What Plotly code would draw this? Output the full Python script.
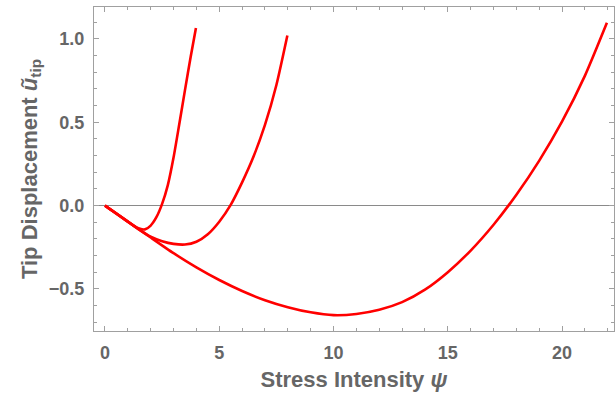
import plotly.graph_objects as go

# Curve 1 (ends at psi = 4)
psi1 = [0, 0.25, 0.5, 0.75, 1.0, 1.25, 1.5, 1.75, 2.0, 2.25, 2.5, 2.75, 3.0, 3.25, 3.5, 3.75, 3.98]
u1 = [0, -0.024, -0.048, -0.072, -0.096, -0.120, -0.138, -0.143, -0.120, -0.070, 0.010, 0.123,
      0.288, 0.488, 0.693, 0.893, 1.066]

# Curve 2 (ends at psi = 8)
psi2 = [0, 0.5, 1.0, 1.5, 2.0, 2.5, 3.0, 3.5, 4.0, 4.5, 5.0, 5.5, 6.0, 6.5, 7.0, 7.5, 7.98]
u2 = [0, -0.048, -0.096, -0.144, -0.187, -0.214, -0.230, -0.234, -0.217, -0.172, -0.097, 0.004,
      0.139, 0.294, 0.484, 0.724, 1.021]

# Curve 3 (ends at psi = 22)
psi3 = [0, 1, 2, 3, 4, 5, 6, 7, 8, 9, 10, 11, 12, 13, 14, 15, 16, 17, 18, 19, 20, 21, 21.96]
u3 = [0, -0.096, -0.192, -0.286, -0.371, -0.447, -0.513, -0.568, -0.610, -0.641, -0.658, -0.651,
      -0.626, -0.580, -0.505, -0.400, -0.270, -0.115, 0.065, 0.270, 0.505, 0.780, 1.097]

x_ticks = [0, 5, 10, 15, 20]
y_ticks = [-0.5, 0.0, 0.5, 1.0]
y_tick_labels = ["−0.5", "0.0", "0.5", "1.0"]

fig = go.Figure()
for px_, py_ in [(psi1, u1), (psi2, u2), (psi3, u3)]:
    fig.add_trace(go.Scatter(x=px_, y=py_, mode="lines",
                             line=dict(color="#ff0000", width=2.6, shape="spline", smoothing=0.6),
                             showlegend=False, hoverinfo="skip"))

axis_common = dict(
    showline=True, linecolor="#a0a0a0", linewidth=1, mirror="allticks",
    ticks="inside", ticklen=5, tickcolor="#a0a0a0", tickwidth=1,
    showgrid=False,
    tickfont=dict(family="Liberation Sans, Arial", size=18, color="#666666", weight="bold"),
)

fig.update_xaxes(
    range=[-0.48, 22.27], tickvals=x_ticks, zeroline=False,
    minor=dict(ticks="inside", ticklen=3, dtick=1, tickcolor="#a0a0a0", showgrid=False),
    title=dict(text="<b>Stress Intensity <i>ψ</i></b>", standoff=10,
               font=dict(family="Liberation Sans, Arial", size=22, color="#666666")),
    ticklabelstandoff=5,
    **axis_common)
fig.update_yaxes(
    range=[-0.753, 1.192], tickvals=y_ticks, ticktext=y_tick_labels,
    zeroline=True, zerolinecolor="#8a8a8a", zerolinewidth=1,
    minor=dict(ticks="inside", ticklen=3, dtick=0.1, tick0=0, tickcolor="#a0a0a0", showgrid=False),
    title=dict(text="<b>Tip Displacement <i>ũ</i><sub>tip</sub></b>", standoff=5,
               font=dict(family="Liberation Sans, Arial", size=22, color="#666666")),
    ticklabelstandoff=5,
    **axis_common)

fig.update_layout(
    width=616, height=399,
    margin=dict(l=94, r=2, t=7, b=68),
    paper_bgcolor="white", plot_bgcolor="white",
)

fig.write_html("out.html")
